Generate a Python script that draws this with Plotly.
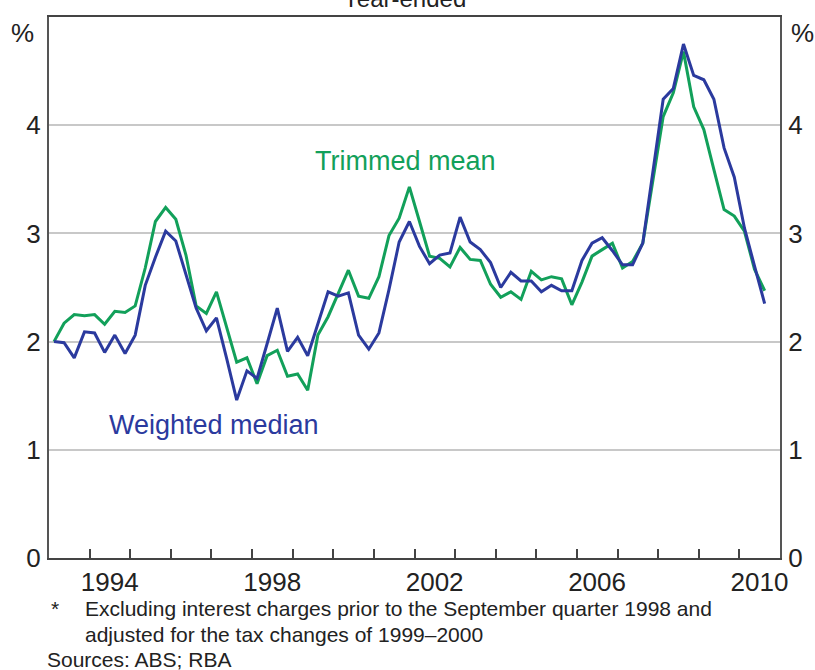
import pandas as pd
import plotly.graph_objects as go

# ---- data (year-ended % change, quarterly 1993Q1 - 2010Q3) ----
quarters = pd.period_range("1993Q1", "2010Q3", freq="Q")

trimmed_mean = [
    2.00, 2.17, 2.25, 2.24, 2.25, 2.16, 2.28, 2.27, 2.33, 2.68,
    3.11, 3.24, 3.13, 2.80, 2.33, 2.26, 2.46, 2.14, 1.81, 1.85,
    1.61, 1.87, 1.92, 1.68, 1.70, 1.55, 2.06, 2.23, 2.45, 2.66,
    2.42, 2.40, 2.60, 2.98, 3.14, 3.43, 3.11, 2.79, 2.77, 2.69,
    2.87, 2.76, 2.75, 2.53, 2.41, 2.46, 2.39, 2.65, 2.57, 2.60,
    2.58, 2.34, 2.55, 2.79, 2.85, 2.91, 2.68, 2.74, 2.91, 3.50,
    4.08, 4.30, 4.68, 4.17, 3.96, 3.59, 3.22, 3.16, 3.02, 2.67,
    2.47,
]

weighted_median = [
    2.00, 1.99, 1.85, 2.09, 2.08, 1.90, 2.06, 1.89, 2.06, 2.52,
    2.78, 3.02, 2.93, 2.63, 2.31, 2.10, 2.22, 1.85, 1.46, 1.73,
    1.66, 1.98, 2.31, 1.91, 2.04, 1.87, 2.17, 2.46, 2.42, 2.45,
    2.06, 1.93, 2.08, 2.48, 2.92, 3.11, 2.88, 2.72, 2.80, 2.82,
    3.15, 2.92, 2.85, 2.73, 2.50, 2.64, 2.56, 2.56, 2.46, 2.52,
    2.47, 2.47, 2.75, 2.91, 2.96, 2.84, 2.71, 2.71, 2.91, 3.59,
    4.24, 4.34, 4.75, 4.46, 4.42, 4.24, 3.79, 3.52, 3.05, 2.70,
    2.35,
]

label_years = [1994, 1998, 2002, 2006, 2010]
tick_years = list(range(1994, 2011))
y_ticks = [0, 1, 2, 3, 4]

title_text = "Year-ended"
footnote_1 = "Excluding interest charges prior to the September quarter 1998 and"
footnote_2 = "adjusted for the tax changes of 1999–2000"
sources_text = "Sources: ABS; RBA"

# ---- styles ----
GREEN = "#12A05A"
BLUE = "#2B3A9E"
TEXT = "#222222"
FONT = "Liberation Sans, Arial, sans-serif"

x_mid = [(q.start_time + (q.end_time - q.start_time) / 2) for q in quarters]

fig = go.Figure()
fig.add_trace(go.Scatter(x=x_mid, y=trimmed_mean, mode="lines", name="Trimmed mean",
                         line=dict(color=GREEN, width=3), yaxis="y"))
fig.add_trace(go.Scatter(x=x_mid, y=weighted_median, mode="lines", name="Weighted median",
                         line=dict(color=BLUE, width=3), yaxis="y2"))

x_range = ["1993-01-01", "2011-01-01"]

fig.update_layout(
    width=815, height=670,
    margin=dict(l=49, r=33, t=17, b=112),
    paper_bgcolor="white", plot_bgcolor="white",
    showlegend=False,
    font=dict(family=FONT, color=TEXT),
    xaxis=dict(
        type="date", range=x_range,
        tickvals=[f"{y}-07-01" for y in label_years],
        ticktext=[str(y) for y in label_years],
        ticks="", showgrid=False, zeroline=False,
        showline=True, linecolor="#444444", linewidth=2, mirror=True,
        tickfont=dict(size=26, color=TEXT),
        ticklabelstandoff=0,
        minor=dict(tickvals=[f"{y}-01-01" for y in tick_years], ticks="inside",
                   ticklen=9, tickwidth=1.5, tickcolor="#444444", showgrid=False),
    ),
    yaxis=dict(
        range=[0, 5], tickvals=y_ticks, ticktext=[str(v) for v in y_ticks],
        ticks="", showgrid=True, gridcolor="#C8C8C8", gridwidth=1.5,
        zeroline=False, showline=True, linecolor="#555555", linewidth=2,
        tickfont=dict(size=26, color=TEXT), ticklabelstandoff=1,
    ),
    yaxis2=dict(
        range=[0, 5], tickvals=y_ticks, ticktext=[str(v) for v in y_ticks],
        overlaying="y", side="right", ticks="", showgrid=False, zeroline=False,
        showline=True, linecolor="#555555", linewidth=2,
        tickfont=dict(size=26, color=TEXT), ticklabelstandoff=1,
    ),
)

annotations = [
    dict(text=title_text, xref="paper", yref="paper", x=0.5, y=1, yanchor="bottom",
         xshift=-10, yshift=3, showarrow=False, font=dict(size=24, color=TEXT)),
    dict(text="%", xref="paper", yref="paper", x=0, y=1, xanchor="right", yanchor="top",
         xshift=-13, yshift=1, showarrow=False, font=dict(size=26, color=TEXT)),
    dict(text="%", xref="paper", yref="paper", x=1, y=1, xanchor="left", yanchor="top",
         xshift=9, yshift=1, showarrow=False, font=dict(size=26, color=TEXT)),
    dict(text="Trimmed mean", xref="x", yref="y", x="2001-10-15", y=3.67,
         showarrow=False, font=dict(size=27, color=GREEN)),
    dict(text="Weighted median", xref="x", yref="y", x="1997-01-20", y=1.23,
         showarrow=False, font=dict(size=27, color=BLUE)),
    dict(text="*", xref="paper", yref="paper", x=0.0, y=-0.094, xanchor="left",
         yanchor="middle", showarrow=False, font=dict(size=21, color=TEXT)),
    dict(text=footnote_1, xref="paper", yref="paper", x=0.046, y=-0.094, xanchor="left",
         yanchor="middle", showarrow=False, font=dict(size=21, color=TEXT)),
    dict(text=footnote_2, xref="paper", yref="paper", x=0.046, y=-0.141, xanchor="left",
         yanchor="middle", showarrow=False, font=dict(size=21, color=TEXT)),
    dict(text=sources_text, xref="paper", yref="paper", x=-0.006, y=-0.188, xanchor="left",
         yanchor="middle", showarrow=False, font=dict(size=21, color=TEXT)),
]
fig.update_layout(annotations=annotations)

fig.write_html("out.html", config={"displayModeBar": False},
               post_script="document.body.style.margin='0px';")
